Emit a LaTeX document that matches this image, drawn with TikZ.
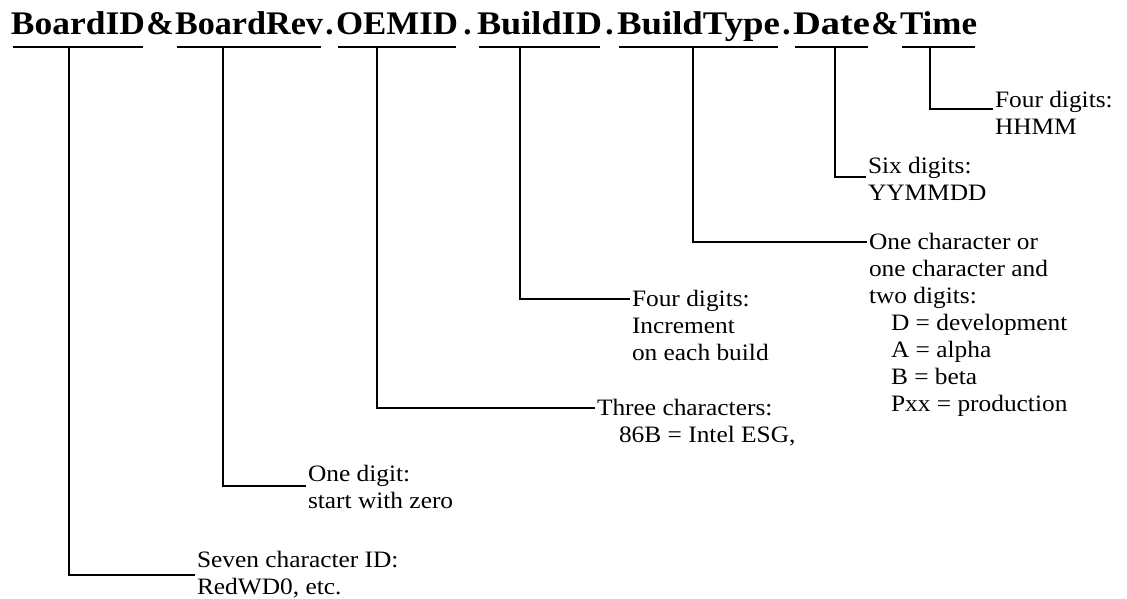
\documentclass[tikz,border=0pt]{standalone}
\usepackage{fontspec}
\usetikzlibrary{calc}
\setmainfont{Liberation Serif}
\newfontfamily\headfont{Liberation Serif}
\newfontfamily\bodyfont[FakeStretch=1.08]{Liberation Serif}
\newcommand\fieldname[2]{\resizebox{#1pt}{\height}{#2}}
\begin{document}
\begin{tikzpicture}[x=1pt,y=-1pt,
  word/.style={font=\headfont\bfseries\fontsize{33}{33}\selectfont,
    inner sep=0pt, outer sep=0pt, anchor=base},
  uline/.style={line width=1.9pt},
  link/.style={line width=1.1pt},
  note/.style={font=\bodyfont\fontsize{23.5}{27}\selectfont,
    inner ysep=0pt, inner xsep=2pt, outer sep=0pt, anchor=base west, align=left}]
\useasboundingbox (0,0) rectangle (1127,599);

% field names, each set to the width of its underline
\node[word] (w1) at ( 78,35) {\fieldname{134}{BoardID}};
\node[word] (w2) at (249,35) {\fieldname{148}{BoardRev}};
\node[word] (w3) at (397,35) {\fieldname{122}{OEMID}};
\node[word] (w4) at (539.5,35) {\fieldname{125}{BuildID}};
\node[word] (w5) at (698.5,35) {\fieldname{163}{BuildType}};
\node[word] (w6) at (831.5,35) {\fieldname{77}{Date}};
\node[word] (w7) at (938.5,35) {\fieldname{77}{Time}};

% separators between the fields
\node[word] (s1) at ($(w1.base east)!0.5!(w2.base west)$) {\&};
\node[word] (s2) at ($(w2.base east)!0.5!(w3.base west)$) {.};
\node[word] (s3) at ($(w3.base east)!0.5!(w4.base west)$) {.};
\node[word] (s4) at ($(w4.base east)!0.5!(w5.base west)$) {.};
\node[word] (s5) at ($(w5.base east)!0.5!(w6.base west)$) {.};
\node[word] (s6) at ($(w6.base east)!0.5!(w7.base west)$) {\&};

% underline under each field
\foreach \a/\b in {13/143,177/321,338/456,479/600,619/778,795/868,902/975}
  \draw[uline] (\a,47) -- (\b,47);

% tap points on the underlines
\coordinate (t1) at (69,47);
\coordinate (t2) at (223,47);
\coordinate (t3) at (377,47);
\coordinate (t4) at (520,47);
\coordinate (t5) at (693,47);
\coordinate (t6) at (835,47);
\coordinate (t7) at (930,47);

% descriptions (placed by the baseline of their last line, 27pt apart)
\node[note] (n7) at (993,135) {Four digits:\\HHMM};
\node[note] (n6) at (866,200) {Six digits:\\YYMMDD};
\node[note] (n5) at (867,411) {One character or\\one character and\\two digits:\\
  \hspace*{22pt}D = development\\\hspace*{22pt}A = alpha\\\hspace*{22pt}B = beta\\
  \hspace*{22pt}Pxx = production};
\node[note] (n4) at (630,360) {Four digits:\\Increment\\on each build};
\node[note] (n3) at (595,442) {Three characters:\\\hspace*{22pt}86B = Intel ESG,};
\node[note] (n2) at (306,508) {One digit:\\start with zero};
\node[note] (n1) at (195,594) {Seven character ID:\\RedWD0, etc.};

% levels of the horizontal leaders
\coordinate (h7) at (0,109);
\coordinate (h6) at (0,177);
\coordinate (h5) at (0,242);
\coordinate (h4) at (0,299);
\coordinate (h3) at (0,408);
\coordinate (h2) at (0,486);
\coordinate (h1) at (0,575);

% leaders
\draw[link] (t7) |- (n7.west |- h7);
\draw[link] (t6) |- (n6.west |- h6);
\draw[link] (t5) |- (n5.west |- h5);
\draw[link] (t4) |- (n4.west |- h4);
\draw[link] (t3) |- (n3.west |- h3);
\draw[link] (t2) |- (n2.west |- h2);
\draw[link] (t1) |- (n1.west |- h1);
\end{tikzpicture}
\end{document}
